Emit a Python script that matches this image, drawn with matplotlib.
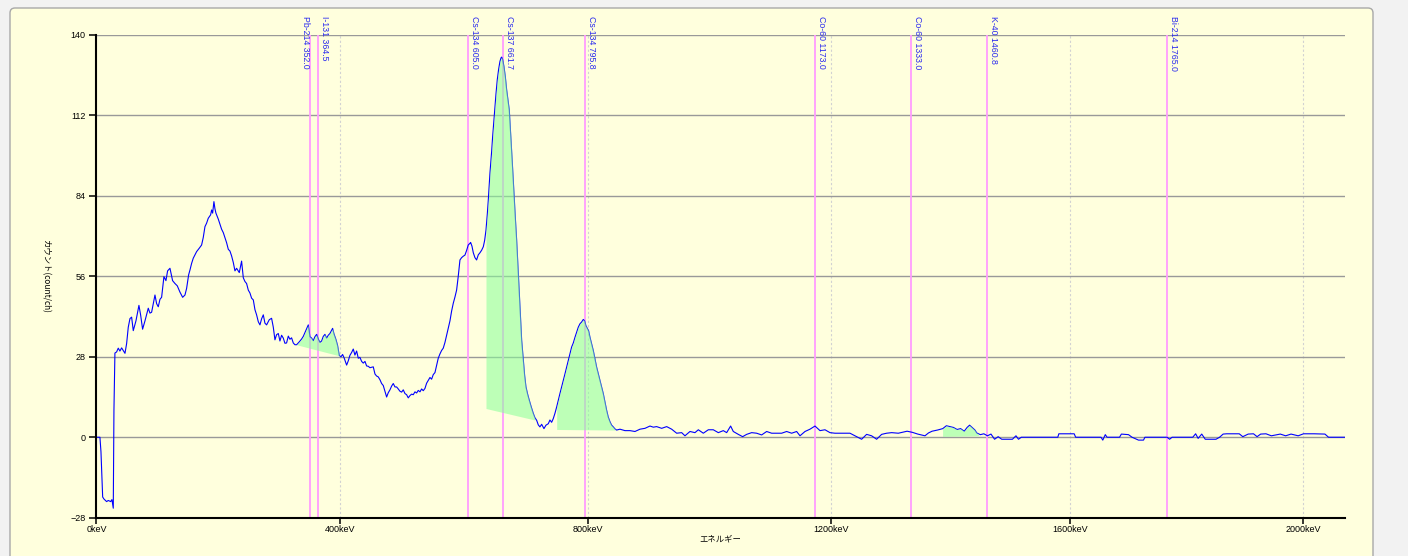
import numpy as np
import matplotlib.pyplot as plt
from matplotlib.patches import FancyBboxPatch

plt.rcParams["font.family"] = ["Liberation Sans", "DejaVu Sans"]
JP_FONT = ["Noto Sans CJK JP", "DejaVu Sans"]

# spectrum (2048 channels)
channel = [
    0, 5.7, 7.4, 10.2, 12.3, 16.7, 19.4, 23.3, 25.4, 27.6,
    28.7, 30.3, 33.1, 35.8, 38.5, 41.3, 46.8, 49.5, 52.2, 55.0,
    57.7, 60.4, 64.8, 69.7, 72.5, 75.7, 79.6, 85.0, 87.8, 90.5,
    96.0, 98.7, 101.4, 104.2, 106.9, 110.7, 114.0, 116.7, 120.6, 124.9,
    128.8, 132.6, 137.0, 141.4, 145.2, 147.9, 151.2, 153.4, 156.1, 158.8,
    164.3, 168.7, 172.5, 175.2, 178.0, 180.7, 183.4, 187.3, 188.9, 190.6,
    192.7, 194.4, 196.0, 199.9, 202.6, 205.3, 208.1, 210.8, 213.5, 216.3,
    219.0, 221.7, 224.5, 227.2, 229.9, 234.3, 238.1, 240.9, 243.6, 246.3,
    249.1, 251.8, 254.5, 257.3, 260.0, 262.7, 265.5, 268.2, 270.9, 273.7,
    276.4, 279.1, 283.5, 287.3, 290.1, 292.8, 295.5, 298.3, 301.0, 303.7,
    306.5, 309.2, 311.9, 314.7, 317.4, 320.1, 322.9, 325.6, 328.4, 332.7,
    336.6, 339.3, 342.0, 344.8, 347.5, 350.2, 353.0, 355.7, 358.4, 361.2,
    363.9, 366.6, 369.4, 372.1, 374.8, 377.6, 380.3, 383.0, 387.4, 389.6,
    392.9, 395.6, 398.3, 401.1, 403.8, 406.5, 410.4, 413.1, 415.8, 418.6,
    421.3, 424.0, 426.8, 429.5, 432.2, 435.0, 437.7, 440.5, 443.2, 445.9,
    448.6, 454.1, 456.9, 459.6, 462.3, 465.1, 467.8, 470.5, 473.3, 476.0,
    478.7, 481.5, 484.2, 486.9, 489.7, 492.4, 495.1, 497.9, 500.6, 503.3,
    506.1, 508.8, 511.5, 514.3, 517.0, 519.7, 522.5, 525.2, 527.9, 530.7,
    533.4, 536.1, 538.9, 541.6, 544.3, 547.1, 549.8, 552.5, 555.3, 558.0,
    560.7, 563.5, 566.2, 568.9, 571.7, 574.4, 577.1, 579.9, 582.6, 585.3,
    588.1, 590.8, 593.5, 596.3, 599.0, 601.7, 604.5, 607.2, 609.9, 612.7,
    613.8, 616.0, 618.2, 620.9, 623.6, 626.4, 629.1, 631.9, 634.6, 636.8,
    639.0, 641.1, 642.8, 645.5, 648.3, 649.9, 652.1, 653.7, 655.4, 657.5,
    659.7, 661.9, 663.6, 664.7, 666.3, 668.5, 670.7, 672.9, 675.0, 677.2,
    679.4, 681.1, 682.7, 684.9, 687.1, 689.3, 692.0, 694.7, 697.5, 700.2,
    702.4, 704.6, 707.3, 710.0, 713.3, 716.6, 719.3, 722.1, 724.8, 727.5,
    730.3, 734.1, 737.4, 741.2, 743.9, 746.7, 749.4, 752.1, 754.9, 757.6,
    760.3, 763.1, 765.8, 768.6, 771.3, 774.0, 776.8, 779.5, 782.2, 785.0,
    787.7, 790.4, 793.2, 795.9, 798.6, 800.8, 803.0, 805.2, 807.4, 809.6,
    812.3, 815.0, 817.8, 820.5, 823.2, 826.0, 828.7, 831.4, 834.2, 836.9,
    839.6, 842.4, 845.1, 847.8, 850.6, 853.3, 858.8, 867.0, 875.2, 883.4,
    891.6, 899.8, 908.0, 913.5, 918.9, 927.2, 935.4, 943.6, 951.8, 960.0,
    965.4, 973.6, 981.8, 987.3, 995.5, 1003.7, 1011.9, 1020.1, 1028.3, 1033.8,
    1040.3, 1044.7, 1052.9, 1060.0, 1066.6, 1074.8, 1083.0, 1091.2, 1099.4, 1107.6,
    1115.8, 1124.0, 1132.2, 1140.4, 1148.6, 1154.1, 1162.3, 1170.5, 1178.7, 1186.9,
    1195.1, 1203.3, 1211.5, 1219.7, 1227.9, 1236.1, 1244.3, 1255.2, 1263.4, 1271.6,
    1279.8, 1288.0, 1296.2, 1304.5, 1315.4, 1329.8, 1338.5, 1347.3, 1359.1, 1364.9,
    1370.8, 1379.6, 1388.3, 1394.2, 1400.1, 1405.9, 1411.8, 1417.6, 1423.5, 1428.2,
    1432.3, 1436.4, 1441.1, 1444.0, 1449.9, 1455.7, 1461.6, 1467.4, 1473.3, 1479.2,
    1485.0, 1493.8, 1502.6, 1508.4, 1512.5, 1517.2, 1577.0, 1578.7, 1603.9, 1606.3,
    1647.9, 1650.8, 1654.9, 1657.8, 1678.3, 1681.3, 1693.0, 1698.8, 1709.4, 1717.6,
    1719.9, 1756.3, 1760.4, 1764.5, 1798.4, 1803.1, 1807.2, 1813.1, 1818.9, 1827.7,
    1836.5, 1842.4, 1848.2, 1854.1, 1874.6, 1880.5, 1889.3, 1898.0, 1903.9, 1909.8,
    1918.5, 1927.3, 1942.0, 1950.8, 1959.6, 1971.3, 1980.1, 1997.6, 2015.2, 2021.1,
    2047.4,
]
count = [
    0, 0, -5, -20.8, -21.5, -22.4, -22.0, -22.4, -21.7, -24.7,
    9.4, 29.3, 29.7, 31.0, 30.0, 31.1, 29.2, 32.6, 38.3, 41.3,
    41.8, 37.1, 40.5, 45.9, 42.5, 37.6, 40.5, 44.9, 43.2, 43.5,
    49.5, 46.5, 45.4, 48.0, 48.7, 55.9, 54.5, 57.9, 58.8, 54.5,
    53.5, 52.7, 50.5, 48.7, 49.5, 51.8, 56.5, 58.2, 60.5, 62.3,
    64.6, 65.8, 66.9, 69.5, 73.3, 74.5, 76.2, 77.4, 79.1, 78.0,
    82.0, 79.5, 78.0, 75.9, 74.2, 72.4, 71.2, 69.5, 67.7, 65.4,
    64.8, 63.1, 60.8, 57.9, 58.8, 57.3, 61.3, 55.5, 54.2, 53.5,
    51.2, 50.2, 48.4, 47.8, 44.4, 42.6, 40.2, 39.1, 41.2, 42.6,
    39.7, 39.1, 40.9, 41.4, 38.3, 33.9, 35.7, 36.1, 33.5, 35.5,
    34.5, 32.7, 32.8, 35.2, 34.1, 34.6, 32.8, 32.2, 32.2, 33.2,
    34.2, 35.1, 36.4, 37.7, 39.1, 35.0, 34.5, 33.6, 35.0, 35.8,
    34.2, 33.0, 33.5, 35.1, 35.8, 34.5, 35.5, 36.1, 37.9, 36.0,
    34.0, 31.9, 28.5, 28.0, 28.8, 27.5, 25.1, 26.6, 28.5, 29.5,
    30.7, 28.6, 30.0, 27.5, 27.8, 26.4, 25.8, 26.4, 24.8, 24.7,
    24.2, 24.5, 22.0, 21.3, 21.0, 20.0, 18.7, 18.0, 16.0, 14.0,
    15.5, 16.5, 17.8, 18.7, 17.5, 17.5, 16.8, 16.0, 15.7, 16.5,
    15.2, 14.8, 13.7, 14.5, 15.0, 14.8, 15.8, 15.4, 16.3, 15.8,
    16.8, 16.2, 17.0, 18.8, 19.8, 20.8, 20.2, 21.8, 22.5, 25.0,
    27.5, 29.0, 30.2, 31.0, 33.0, 35.5, 37.9, 40.5, 43.9, 46.6,
    48.8, 51.2, 56.0, 61.7, 62.5, 63.0, 63.4, 65.0, 66.9, 67.5,
    67.8, 66.5, 64.2, 62.5, 61.7, 63.5, 64.2, 65.1, 66.3, 68.5,
    72.1, 77.5, 82.6, 91.9, 99.5, 104.6, 110.5, 115.1, 119.5, 124.4,
    128.0, 130.8, 132.0, 132.3, 131.5, 129.0, 125.5, 120.9, 117.5, 113.9,
    106.0, 100.0, 93.5, 84.9, 76.5, 68.6, 57.0, 45.4, 33.8, 26.8,
    21.5, 17.5, 15.0, 12.9, 10.5, 8.3, 6.8, 5.9, 4.3, 3.6,
    4.5, 3.0, 4.2, 4.7, 6.0, 5.2, 6.5, 8.3, 10.5, 12.9,
    15.2, 17.5, 19.8, 22.1, 24.4, 26.8, 29.0, 31.4, 32.8, 34.8,
    36.5, 38.3, 39.5, 40.1, 41.0, 40.5, 38.8, 37.9, 37.0, 34.8,
    32.5, 30.2, 27.3, 24.4, 22.1, 19.8, 17.5, 15.2, 12.3, 9.4,
    7.0, 5.4, 4.2, 3.6, 2.9, 2.5, 2.8, 2.3, 2.3, 2.0,
    2.8, 3.1, 3.9, 3.5, 3.7, 3.1, 3.7, 2.8, 1.4, 1.6,
    0.5, 2.0, 1.6, 2.6, 1.4, 2.6, 2.6, 1.6, 2.3, 1.6,
    3.9, 2.0, 1.0, 0.2, 1.0, 1.6, 1.4, 0.8, 2.0, 1.4,
    1.4, 1.4, 2.0, 1.4, 2.0, 0.5, 2.0, 2.8, 3.9, 2.3,
    2.6, 1.6, 1.4, 1.4, 1.4, 1.4, 0.5, -0.7, 1.0, 0.5,
    -0.7, 1.0, 1.4, 1.6, 1.4, 2.1, 1.7, 1.1, 0.5, 1.5,
    2.1, 2.5, 3.0, 4.0, 3.7, 3.4, 2.7, 3.0, 2.1, 3.4,
    4.2, 3.4, 2.5, 1.5, 0.9, 1.2, 0.5, 1.1, -0.7, 0.2,
    -0.7, -0.7, -0.7, 0.5, -0.7, 0, 0, 1.2, 1.2, 0,
    0, -1.0, 0.9, 0, 0, 1.1, 0.9, 0, -1.0, -1.0,
    0, 0, -0.7, 0, 0, 1.2, -0.4, 1.1, -0.7, -0.7,
    -0.7, 0, 1.1, 1.2, 1.2, 0.2, 1.1, 1.2, 0.2, 1.1,
    1.2, 0.5, 1.1, 0.5, 1.1, 0.5, 1.2, 1.2, 1.1, 0,
    0,
]

# peak regions (green) : channel range and straight baseline
roi_start = [328, 639, 755, 1388]
roi_end = [399, 719, 851, 1447]
roi_base_start = [32.2, 10.0, 2.7, 0.3]
roi_base_end = [28.3, 6.0, 2.5, 0.5]

nuclide_name = ["Pb-214", "I-131", "Cs-134", "Cs-137", "Cs-134",
                "Co-60", "Co-60", "K-40", "Bi-214"]
nuclide_kev = [352.0, 364.5, 605.0, 661.7, 795.8, 1173.0, 1333.0, 1460.8, 1765.0]

tick_kev = [0, 400, 800, 1200, 1600, 2000]
y_ticks = [-28, 0, 28, 56, 84, 112, 140]

# energy -> channel calibration of the detector (quadratic)
CAL = (-15.34, 1.04675, -2.4606e-5)


def kev_to_ch(e):
    e = np.asarray(e, dtype=float)
    return CAL[0] + CAL[1] * e + CAL[2] * e ** 2


x = np.array(channel)
y = np.array(count)

fig = plt.figure(figsize=(14.08, 5.56), dpi=100, facecolor="#f2f2f2")
panel = FancyBboxPatch((0.1, -0.2), 13.63, 5.68,
                       boxstyle="round,pad=0,rounding_size=0.05",
                       transform=fig.dpi_scale_trans,
                       fc="#ffffdd", ec="#a8a8a8", lw=1, zorder=-10)
fig.patches.append(panel)

ax = fig.add_axes([0.0685, 0.0689, 0.8867, 0.8682])
ax.set_zorder(5)
ax.set_facecolor("none")

# grid
for v in y_ticks[1:]:
    ax.axhline(v, color="#999999", lw=1.0, zorder=0.5)
tick_ch = np.clip(kev_to_ch(tick_kev), 0, None)
for c in tick_ch[1:]:
    ax.axvline(c, color="#d2d2d2", lw=0.8, ls=(0, (2, 2)), zorder=0.4)

# nuclide lines + labels
nuc_ch = kev_to_ch(nuclide_kev)
for i, (name, kev) in enumerate(zip(nuclide_name, nuclide_kev)):
    c = nuc_ch[i]
    ax.axvline(c, color="#ff9cff", lw=1.3, zorder=1)
    crowded = i + 1 < len(nuc_ch) and nuc_ch[i + 1] - c < 15
    ax.annotate(f"{name} {kev:.1f}", xy=(c, 1), xycoords=("data", "axes fraction"),
                xytext=(0 if crowded else 2, 19), textcoords="offset pixels",
                rotation=270, ha="right" if crowded else "left", va="top",
                color="#2a2aee", fontsize=6.3, annotation_clip=False)

ax.plot(x, y, color="#0000ff", lw=0.8, zorder=2)

# peak areas
for s, e, b0, b1 in zip(roi_start, roi_end, roi_base_start, roi_base_end):
    sel = (x > s) & (x < e)
    xs = np.concatenate([[s], x[sel], [e]])
    ys = np.concatenate([[np.interp(s, x, y)], y[sel], [np.interp(e, x, y)]])
    base = np.interp(xs, [s, e], [b0, b1])
    ax.fill_between(xs, base, ys, color="#88ff99", alpha=0.55, lw=0, zorder=3)

ax.set_xlim(0, 2048)
ax.set_ylim(-28, 140)
ax.set_xticks(tick_ch, [f"{k}keV" for k in tick_kev])
ax.set_yticks(y_ticks)

for side in ["top", "right"]:
    ax.spines[side].set_visible(False)
for side in ["left", "bottom"]:
    ax.spines[side].set_linewidth(1.5)
    ax.spines[side].set_zorder(4)
ax.tick_params(axis="both", direction="out", width=1.1, labelsize=6.5)
ax.tick_params(axis="y", length=4.7, pad=3)
ax.tick_params(axis="x", length=4, pad=1.5)

ax.set_ylabel("カウント(count/ch)", family=JP_FONT, fontsize=6, rotation=270, va="center")
ax.yaxis.set_label_coords(-0.041, 0.5)
ax.set_xlabel("エネルギー", family=JP_FONT, fontsize=6, va="center")
ax.xaxis.set_label_coords(0.5, -0.044)

fig.savefig("out.png", dpi=100, facecolor=fig.get_facecolor())
